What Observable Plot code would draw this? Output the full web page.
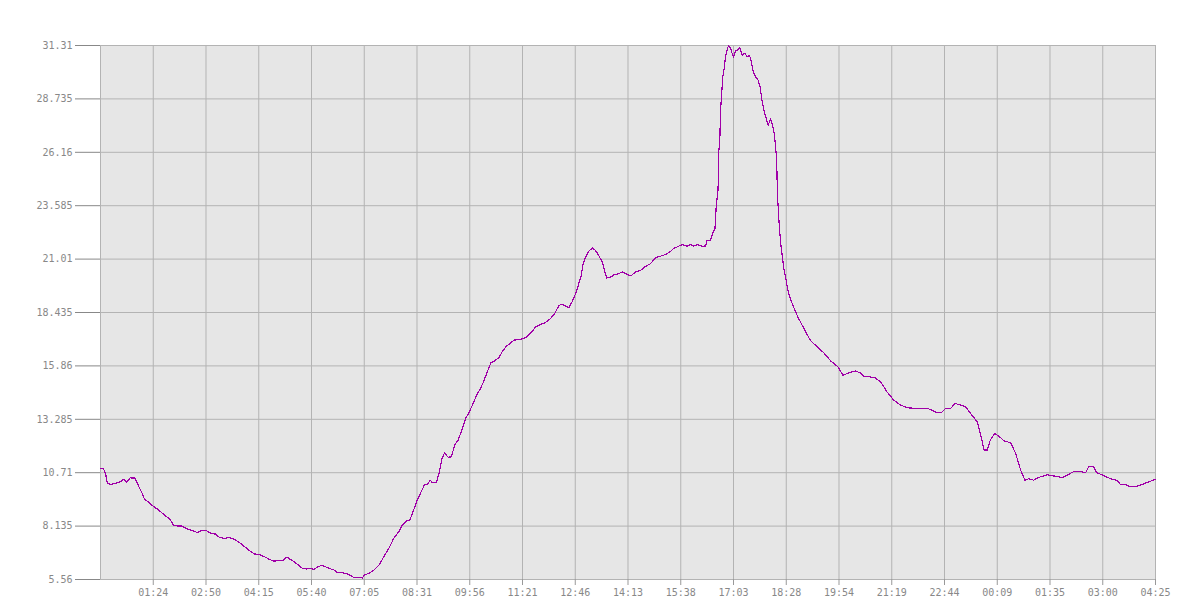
<!DOCTYPE html>
<html><head><meta charset="utf-8">
<script src="https://cdn.jsdelivr.net/npm/d3@7"></script>
<script src="https://cdn.jsdelivr.net/npm/@observablehq/plot@0.6"></script>
<style>body{margin:0;background:#fff}</style>
</head><body><div id="chart"></div>
<script>
// minutes since start of the record
const minutes = [0,5,8,11,15,19,26,32,37,42,48,55,58,63,68,71,78,84,94,102,112,118,124,131,141,150,157,162,170,178,186,192,200,207,215,223,233,241,249,257,265,273,280,289,296,301,307,315,326,333,339,345,350,356,362,369,377,383,391,399,405,410,417,423,427,434,442,450,458,466,474,482,488,495,500,505,512,517,524,528,533,536,543,547,552,556,562,567,573,578,585,590,595,601,608,614,619,625,631,637,644,649,656,663,668,676,684,690,698,703,711,719,727,734,741,746,751,757,762,768,773,777,780,784,789,795,800,805,811,815,818,824,830,838,843,850,857,865,873,881,889,897,905,913,920,926,935,940,948,954,959,965,972,978,980,986,989,993,995,998,999,1001,1002,1004,1006,1008,1010,1013,1015,1018,1021,1023,1026,1030,1033,1037,1041,1045,1049,1052,1055,1059,1062,1066,1069,1073,1076,1079,1083,1086,1089,1092,1093,1094,1096,1099,1102,1104,1109,1112,1120,1127,1134,1147,1158,1169,1180,1192,1200,1209,1220,1228,1235,1244,1252,1261,1271,1282,1293,1304,1320,1336,1344,1352,1360,1366,1374,1381,1390,1398,1406,1417,1422,1428,1433,1438,1445,1452,1460,1471,1479,1487,1494,1500,1508,1516,1530,1541,1554,1562,1573,1584,1592,1597,1605,1610,1621,1632,1642,1648,1656,1662,1673,1684,1694,1705];
const values = [10.93,10.88,10.69,10.22,10.16,10.16,10.21,10.27,10.40,10.26,10.46,10.45,10.31,9.97,9.68,9.44,9.28,9.12,8.91,8.70,8.47,8.19,8.14,8.14,7.99,7.90,7.82,7.91,7.94,7.79,7.75,7.59,7.54,7.59,7.51,7.38,7.14,6.95,6.79,6.76,6.66,6.53,6.45,6.47,6.50,6.64,6.53,6.37,6.10,6.07,6.10,6.05,6.15,6.23,6.20,6.10,6.02,5.89,5.89,5.83,5.73,5.65,5.67,5.63,5.78,5.86,6.02,6.26,6.66,7.06,7.55,7.86,8.19,8.39,8.43,8.83,9.39,9.71,10.15,10.15,10.35,10.24,10.24,10.68,11.40,11.67,11.45,11.48,12.09,12.28,12.84,13.33,13.57,13.97,14.45,14.77,15.09,15.57,16.01,16.10,16.27,16.53,16.81,16.97,17.10,17.13,17.18,17.29,17.53,17.74,17.86,17.95,18.14,18.38,18.78,18.83,18.75,18.67,18.94,19.35,19.83,20.23,20.79,21.11,21.39,21.55,21.43,21.19,20.87,20.39,20.10,20.13,20.26,20.31,20.39,20.29,20.20,20.39,20.47,20.66,20.79,21.08,21.15,21.23,21.35,21.52,21.64,21.71,21.63,21.71,21.64,21.71,21.63,21.64,21.92,21.92,22.24,22.48,23.52,24.33,26.09,26.89,28.10,29.06,29.87,30.19,30.75,31.15,31.31,31.20,30.91,30.75,31.04,31.10,31.23,30.83,30.94,30.78,30.83,30.51,30.02,29.78,29.71,29.30,28.66,28.10,27.78,27.46,27.78,27.46,27.06,26.09,25.45,24.17,23.04,21.83,21.11,20.63,19.83,19.35,18.70,18.22,17.82,17.10,16.78,16.49,16.10,15.81,15.41,15.52,15.62,15.52,15.33,15.33,15.28,15.09,14.61,14.21,13.97,13.84,13.81,13.81,13.73,13.60,13.63,13.81,13.81,14.05,13.97,13.89,13.57,13.16,12.60,11.80,11.80,12.28,12.60,12.47,12.25,12.15,11.64,10.84,10.35,10.42,10.35,10.48,10.61,10.55,10.48,10.58,10.77,10.77,10.71,10.99,10.99,10.71,10.58,10.42,10.35,10.16,10.16,10.06,10.03,10.15,10.27,10.39];
const xTickLabels = ["01:24","02:50","04:15","05:40","07:05","08:31","09:56","11:21","12:46","14:13","15:38","17:03","18:28","19:54","21:19","22:44","00:09","01:35","03:00","04:25"];
const yTickLabels = ["5.56","8.135","10.71","13.285","15.86","18.435","21.01","23.585","26.16","28.735","31.31"];

const spanMinutes = 1705;
const xTicks = xTickLabels.map((_, i) => (i + 1) * spanMinutes / xTickLabels.length);
const yTicks = yTickLabels.map(Number);
const data = minutes.map((t, i) => ({t, v: values[i]}));

const chart = Plot.plot({
  width: 1200,
  height: 600,
  marginTop: 45,
  marginBottom: 21,
  marginLeft: 100,
  marginRight: 45,
  style: {fontFamily: "'DejaVu Sans Mono', monospace", fontSize: "10px", color: "#888", background: "transparent"},
  x: {domain: [0, spanMinutes]},
  y: {domain: [yTicks[0], yTicks[yTicks.length - 1]]},
  marks: [
    Plot.frame({fill: "#e6e6e6"}),
    Plot.gridX(xTicks, {stroke: "#b3b3b3", strokeOpacity: 1}),
    Plot.gridY(yTicks, {stroke: "#b3b3b3", strokeOpacity: 1}),
    Plot.frame({stroke: "#b3b3b3"}),
    Plot.axisX(xTicks, {tickSize: 6, tickPadding: 3, stroke: "#999", fill: "#888",
      tickFormat: d => xTickLabels[xTicks.indexOf(d)], label: null}),
    Plot.axisY(yTicks, {tickSize: 25, tickPadding: 3, stroke: "#888", fill: "#888",
      tickFormat: d => yTickLabels[yTicks.indexOf(d)], label: null}),
    Plot.line(data, {x: "t", y: "v", stroke: "#a000a8", strokeWidth: 1.2, shapeRendering: "crispEdges"})
  ]
});
document.getElementById("chart").append(chart);
</script>
</body></html>
